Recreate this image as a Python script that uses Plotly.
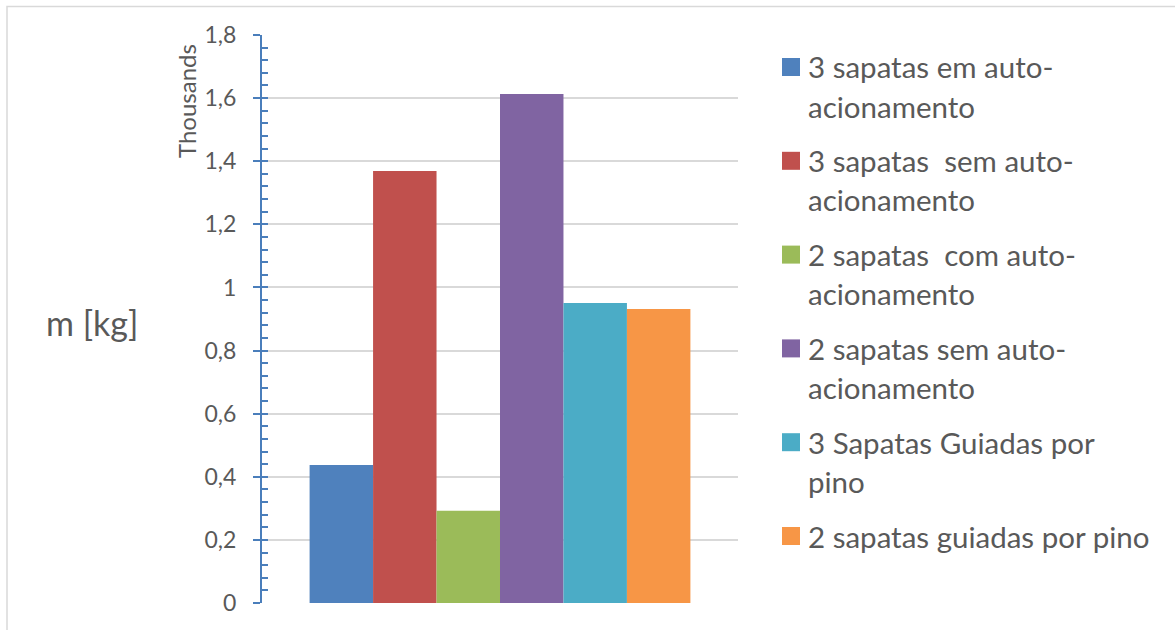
import plotly.graph_objects as go

# ---- data ----
categories = [""]
series_names = [
    "3 sapatas em auto-\nacionamento",
    "3 sapatas  sem auto-\nacionamento",
    "2 sapatas  com auto-\nacionamento",
    "2 sapatas sem auto-\nacionamento",
    "3 Sapatas Guiadas por\npino",
    "2 sapatas guiadas por pino",
]
series_values_kg = [437, 1369, 292, 1613, 951, 932]
series_colors = ["#4F81BD", "#C0504D", "#9BBB59", "#8064A2", "#4BACC6", "#F79646"]
y_title = "Thousands"
side_label = "m [kg]"

W, H = 1175, 630
FONT = "Lato"
TXT = "#595959"

fig = go.Figure()
for name, val, col in zip(series_names, series_values_kg, series_colors):
    fig.add_trace(go.Bar(
        x=categories, y=[val / 1000], name=name.replace("\n", ""),
        marker=dict(color=col, line=dict(width=0)), showlegend=False,
        hoverinfo="y+name",
    ))

# plot area in pixels
px_l, px_r, px_t, px_b = 262, 738, 35, 603
dom_x = [px_l / W, px_r / W]
dom_y = [1 - px_b / H, 1 - px_t / H]

fig.update_layout(
    width=W, height=H,
    margin=dict(l=0, r=0, t=0, b=0, autoexpand=False),
    paper_bgcolor="white", plot_bgcolor="white",
    separators=",.",
    barmode="group", bargap=0.2, bargroupgap=0,
    font=dict(family=FONT, color=TXT),
    xaxis=dict(domain=dom_x, showticklabels=False, ticks="", showgrid=False,
               zeroline=False, showline=False, range=[-0.5, 0.5], automargin=False),
    yaxis=dict(domain=dom_y, range=[0, 1.8], dtick=0.2, tick0=0,
               showgrid=True, gridcolor="#D9D9D9", gridwidth=1.5,
               zeroline=False, showline=True, linecolor="#4A7EBB", linewidth=2,
               ticks="outside", ticklen=7, tickwidth=2, tickcolor="#4A7EBB",
               ticklabelstandoff=12,
               tickfont=dict(size=23, color=TXT, family=FONT),
               automargin=False, anchor="x"),
    yaxis2=dict(domain=dom_y, range=[0, 1.8], overlaying="y", side="left", anchor="x",
                dtick=0.04, tick0=0, showgrid=False, zeroline=False, showline=False,
                showticklabels=False, ticks="inside", ticklen=6, tickwidth=2,
                tickcolor="#4A7EBB", automargin=False),
)

# invisible trace to make yaxis2 render
fig.add_trace(go.Scatter(x=categories, y=[0], yaxis="y2", mode="markers",
                         marker=dict(opacity=0), showlegend=False, hoverinfo="skip"))

# chart border
fig.add_shape(type="rect", xref="paper", yref="paper",
              x0=7 / W, x1=1.02, y0=-0.02, y1=1 - 6.5 / H,
              line=dict(color="#D9D9D9", width=1.5), fillcolor="rgba(0,0,0,0)", layer="below")

# axis unit label (top-aligned like the reference)
fig.add_annotation(xref="paper", yref="paper", x=187 / W, y=1 - 101 / H,
                   text=y_title, showarrow=False, textangle=-90,
                   xanchor="center", yanchor="middle",
                   font=dict(size=24, color=TXT, family=FONT))

# side label
fig.add_annotation(xref="paper", yref="paper", x=92 / W, y=1 - 322 / H,
                   text=side_label, showarrow=False, xanchor="center", yanchor="middle",
                   font=dict(size=34, color=TXT, family=FONT))

# manual legend
leg_sq_x0, leg_sq_x1 = 782, 800
leg_txt_x = 806
first_y, entry_step, line_step = 67, 93.8, 39
for i, (name, col) in enumerate(zip(series_names, series_colors)):
    yc = first_y + entry_step * i
    fig.add_shape(type="rect", xref="paper", yref="paper",
                  x0=leg_sq_x0 / W, x1=leg_sq_x1 / W,
                  y0=1 - (yc + 9) / H, y1=1 - (yc - 9) / H,
                  line=dict(width=0), fillcolor=col)
    for j, line in enumerate(name.split("\n")):
        fig.add_annotation(xref="paper", yref="paper", x=leg_txt_x / W,
                           y=1 - (yc + j * line_step) / H,
                           text=line.replace("  ", "&nbsp; "), showarrow=False,
                           xanchor="left", yanchor="middle",
                           font=dict(size=29.5, color=TXT, family=FONT))

fig.write_html("out.html")
